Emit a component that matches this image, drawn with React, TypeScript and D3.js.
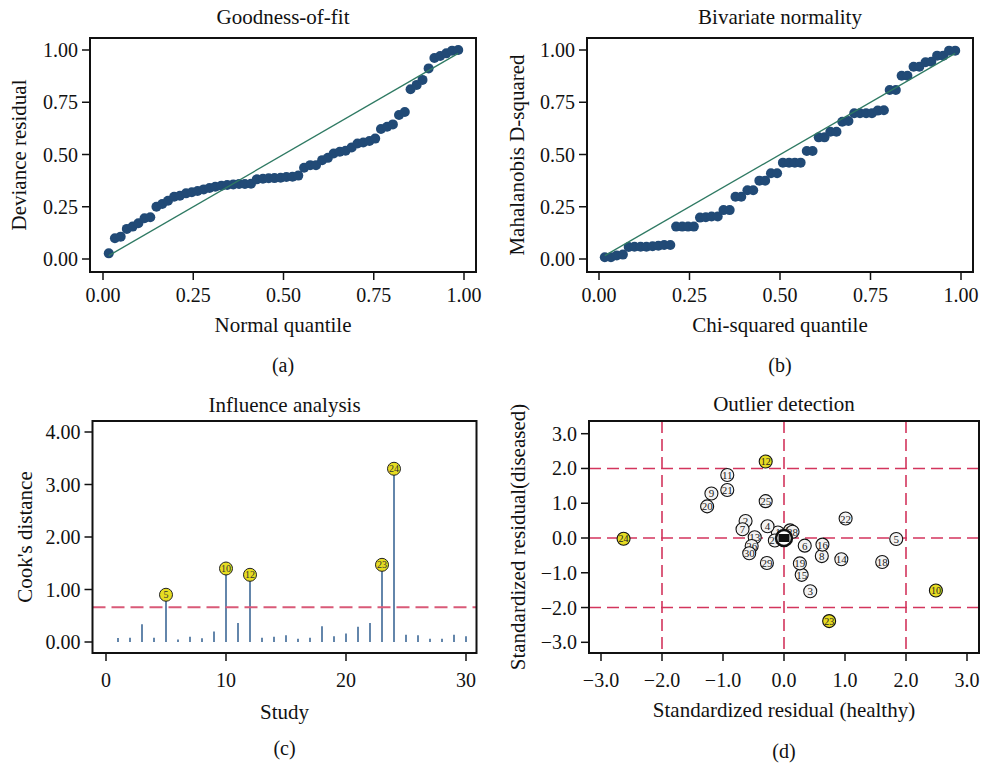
import * as d3 from 'd3'

// quantile positions shared by the two Q-Q panels
const quantiles = [
  0.016, 0.033, 0.049, 0.066, 0.082, 0.098, 0.115, 0.131, 0.148, 0.164,
  0.18, 0.197, 0.213, 0.23, 0.246, 0.262, 0.279, 0.295, 0.311, 0.328,
  0.344, 0.361, 0.377, 0.393, 0.41, 0.426, 0.443, 0.459, 0.475, 0.492,
  0.508, 0.525, 0.541, 0.557, 0.574, 0.59, 0.607, 0.623, 0.639, 0.656,
  0.672, 0.689, 0.705, 0.721, 0.738, 0.754, 0.77, 0.787, 0.803, 0.82,
  0.836, 0.852, 0.869, 0.885, 0.902, 0.918, 0.934, 0.951, 0.967, 0.984,
]

const devianceResidual = [
  0.027, 0.099, 0.107, 0.144, 0.155, 0.171, 0.195, 0.2, 0.25, 0.263,
  0.279, 0.298, 0.303, 0.314, 0.319, 0.325, 0.333, 0.34, 0.346, 0.351,
  0.354, 0.357, 0.359, 0.359, 0.36, 0.381, 0.384, 0.386, 0.387, 0.389,
  0.392, 0.394, 0.399, 0.437, 0.449, 0.449, 0.473, 0.484, 0.505, 0.513,
  0.518, 0.534, 0.553, 0.557, 0.565, 0.576, 0.622, 0.633, 0.644, 0.689,
  0.703, 0.812, 0.833, 0.857, 0.912, 0.962, 0.971, 0.984, 0.997, 1.0,
]

const mahalanobisD2 = [
  0.008, 0.008, 0.017, 0.021, 0.057, 0.059, 0.059, 0.059, 0.061, 0.063,
  0.067, 0.067, 0.155, 0.155, 0.155, 0.155, 0.198, 0.2, 0.203, 0.203,
  0.234, 0.234, 0.298, 0.298, 0.329, 0.329, 0.375, 0.375, 0.41, 0.41,
  0.461, 0.461, 0.461, 0.461, 0.517, 0.517, 0.582, 0.582, 0.609, 0.609,
  0.657, 0.66, 0.697, 0.697, 0.697, 0.697, 0.71, 0.712, 0.809, 0.809,
  0.877, 0.877, 0.92, 0.92, 0.941, 0.944, 0.973, 0.973, 0.997, 0.997,
]

const studies = [
  1, 2, 3, 4, 5, 6, 7, 8, 9, 10, 11, 12, 13, 14, 15,
  16, 17, 18, 19, 20, 21, 22, 23, 24, 25, 26, 27, 28, 29, 30,
]

const cooksDistance = [
  0.076, 0.08, 0.34, 0.08, 0.9, 0.05, 0.1, 0.07, 0.2, 1.4,
  0.36, 1.28, 0.08, 0.1, 0.13, 0.06, 0.08, 0.3, 0.11, 0.16,
  0.29, 0.36, 1.47, 3.3, 0.14, 0.13, 0.06, 0.06, 0.14, 0.11,
]
const cooksCutoff = 0.66
const influential = [5, 10, 12, 23, 24]

const healthyResid = [
  -0.1, -0.63, 0.43, -0.27, 1.84, 0.34, -0.68, 0.62, -1.19, 2.49,
  -0.93, -0.3, -0.48, 0.94, 0.29, 0.63, 0.1, 1.61, 0.26, -1.26,
  -0.93, 1.01, 0.74, -2.63, -0.3, -0.53, -0.15, 0.14, -0.28, -0.57,
]
const diseasedResid = [
  0.16, 0.49, -1.53, 0.34, -0.03, -0.22, 0.25, -0.52, 1.28, -1.51,
  1.81, 2.2, 0.02, -0.61, -1.06, -0.19, 0.22, -0.69, -0.73, 0.91,
  1.38, 0.56, -2.39, -0.02, 1.06, -0.23, -0.07, 0.18, -0.72, -0.44,
]
const outliers = [10, 12, 23, 24]
const cutLevels = [-2, 0, 2]

const unitTicks = [0, 0.25, 0.5, 0.75, 1]
const cookTicks = [0, 1, 2, 3, 4]
const studyTicks = [0, 10, 20, 30]
const residTicks = [-3, -2, -1, 0, 1, 2, 3]

const FONT = '"Liberation Serif", "DejaVu Serif", serif'
const POINT = '#214a76'
const LINE = '#2f7a63'
const STEM = '#3d6896'
const YELLOW = '#e6dc22'
const DASH_C = '#d95a78'
const DASH_D = '#d3355d'
const TICK_FS = 20
const LABEL_FS = 21

type Box = { x0: number; y0: number; x1: number; y1: number }

type PanelProps = {
  box: Box
  x: d3.ScaleLinear<number, number>
  y: d3.ScaleLinear<number, number>
  xTicks: number[]
  yTicks: number[]
  xFmt: (d: number) => string
  yFmt: (d: number) => string
  title: string
  xLabel: string
  yLabel: string
  sub: string
  yLabelX: number
  xTickY: number
  xLabelY: number
  subY: number
  titleY: number
  children?: React.ReactNode
}

const Panel = (p: PanelProps) => {
  const { box, x, y } = p
  const cx = (box.x0 + box.x1) / 2
  const cy = (box.y0 + box.y1) / 2
  return (
    <g fontFamily={FONT} fill="#111">
      <text x={cx} y={p.titleY} textAnchor="middle" dominantBaseline="central" fontSize={LABEL_FS}>
        {p.title}
      </text>
      {p.children}
      <rect x={box.x0} y={box.y0} width={box.x1 - box.x0} height={box.y1 - box.y0} fill="none" stroke="#111" strokeWidth={2} />
      {p.xTicks.map((t) => (
        <g key={'x' + t}>
          <line x1={x(t)} x2={x(t)} y1={box.y1} y2={box.y1 + 8} stroke="#111" strokeWidth={1.5} />
          <text x={x(t)} y={p.xTickY} textAnchor="middle" dominantBaseline="central" fontSize={TICK_FS}>
            {p.xFmt(t)}
          </text>
        </g>
      ))}
      {p.yTicks.map((t) => (
        <g key={'y' + t}>
          <line x1={box.x0 - 8} x2={box.x0} y1={y(t)} y2={y(t)} stroke="#111" strokeWidth={1.5} />
          <text x={box.x0 - 12} y={y(t)} textAnchor="end" dominantBaseline="central" fontSize={TICK_FS}>
            {p.yFmt(t)}
          </text>
        </g>
      ))}
      <text x={cx} y={p.xLabelY} textAnchor="middle" dominantBaseline="central" fontSize={LABEL_FS}>
        {p.xLabel}
      </text>
      <text
        transform={`translate(${p.yLabelX},${cy}) rotate(-90)`}
        textAnchor="middle"
        dominantBaseline="central"
        fontSize={LABEL_FS}
      >
        {p.yLabel}
      </text>
      <text x={cx} y={p.subY} textAnchor="middle" dominantBaseline="central" fontSize={TICK_FS}>
        {p.sub}
      </text>
    </g>
  )
}

const QQPanel = ({ box, values, xRange, title, xLabel, yLabel, sub, yLabelX }: {
  box: Box
  values: number[]
  xRange: [number, number]
  title: string
  xLabel: string
  yLabel: string
  sub: string
  yLabelX: number
}) => {
  const x = d3.scaleLinear().domain([0, 1]).range(xRange)
  const y = d3.scaleLinear().domain([0, 1]).range([259, 50])
  const qa = quantiles[0]
  const qb = quantiles[quantiles.length - 1]
  const f2 = d3.format('.2f')
  return (
    <Panel
      box={box} x={x} y={y} xTicks={unitTicks} yTicks={unitTicks} xFmt={f2} yFmt={f2}
      title={title} xLabel={xLabel} yLabel={yLabel} sub={sub} yLabelX={yLabelX}
      titleY={17} xTickY={295} xLabelY={325} subY={365}
    >
      {values.map((v, i) => (
        <circle key={i} cx={x(quantiles[i])} cy={y(v)} r={5} fill={POINT} />
      ))}
      <line x1={x(qa)} y1={y(qa)} x2={x(qb)} y2={y(qb)} stroke={LINE} strokeWidth={1.3} />
    </Panel>
  )
}

const CookPanel = () => {
  const box = { x0: 92.5, y0: 421, x1: 476.5, y1: 653 }
  const x = d3.scaleLinear().domain([0, 30]).range([106, 466])
  const y = d3.scaleLinear().domain([0, 4]).range([642, 432])
  return (
    <Panel
      box={box} x={x} y={y} xTicks={studyTicks} yTicks={cookTicks}
      xFmt={d3.format('d')} yFmt={d3.format('.2f')}
      title="Influence analysis" xLabel="Study" yLabel="Cook's distance" sub="(c)"
      yLabelX={25} titleY={405} xTickY={680} xLabelY={712} subY={748}
    >
      {studies.map((s, i) => (
        <line key={s} x1={x(s)} x2={x(s)} y1={y(0)} y2={y(cooksDistance[i])} stroke={STEM} strokeWidth={1.6} />
      ))}
      <line x1={box.x0} x2={box.x1} y1={y(cooksCutoff)} y2={y(cooksCutoff)} stroke={DASH_C} strokeWidth={2} strokeDasharray="13 6" />
      {studies.filter((s) => influential.includes(s)).map((s) => (
        <g key={'m' + s}>
          <circle cx={x(s)} cy={y(cooksDistance[s - 1])} r={6.5} fill={YELLOW} stroke="#222" strokeWidth={1} />
          <text x={x(s)} y={y(cooksDistance[s - 1])} textAnchor="middle" dominantBaseline="central" fontSize={10} fill="#333">
            {s}
          </text>
        </g>
      ))}
    </Panel>
  )
}

const OutlierPanel = () => {
  const box = { x0: 589, y0: 421, x1: 979, y1: 653 }
  const x = d3.scaleLinear().domain([-3, 3]).range([601, 967])
  const y = d3.scaleLinear().domain([-3, 3]).range([642.3, 433.7])
  const f1 = d3.format('.1f')
  return (
    <Panel
      box={box} x={x} y={y} xTicks={residTicks} yTicks={residTicks} xFmt={f1} yFmt={f1}
      title="Outlier detection" xLabel="Standardized residual (healthy)"
      yLabel="Standardized residual(diseased)" sub="(d)"
      yLabelX={518} titleY={404} xTickY={680} xLabelY={710} subY={751}
    >
      {cutLevels.map((c) => (
        <g key={'c' + c}>
          <line x1={box.x0} x2={box.x1} y1={y(c)} y2={y(c)} stroke={DASH_D} strokeWidth={1.6} strokeDasharray="12 6" />
          <line x1={x(c)} x2={x(c)} y1={box.y0} y2={box.y1} stroke={DASH_D} strokeWidth={1.6} strokeDasharray="12 6" />
        </g>
      ))}
      {studies.map((s, i) => (
        <g key={'p' + s}>
          <circle
            cx={x(healthyResid[i])} cy={y(diseasedResid[i])} r={6.5}
            fill={outliers.includes(s) ? YELLOW : '#f3f3f3'} stroke="#111" strokeWidth={1.1}
          />
          <text
            x={x(healthyResid[i])} y={y(diseasedResid[i])} textAnchor="middle" dominantBaseline="central"
            fontSize={outliers.includes(s) ? 10 : 11} fill="#222"
          >
            {s}
          </text>
        </g>
      ))}
      <circle cx={x(0)} cy={y(0)} r={8} fill="#fff" stroke="#111" strokeWidth={2.5} />
      <rect x={x(0) - 5.5} y={y(0) - 4} width={11} height={8} fill="#111" />
    </Panel>
  )
}

export default function App() {
  return (
    <svg width={981} height={764} style={{ position: 'absolute', left: 0, top: 0, background: '#fff' }}>
      <QQPanel
        box={{ x0: 90, y0: 38, x1: 476, y1: 272 }} values={devianceResidual} xRange={[103, 464]}
        title="Goodness-of-fit" xLabel="Normal quantile" yLabel="Deviance residual" sub="(a)" yLabelX={19}
      />
      <QQPanel
        box={{ x0: 587, y0: 38, x1: 973, y1: 272 }} values={mahalanobisD2} xRange={[599, 961]}
        title="Bivariate normality" xLabel="Chi-squared quantile" yLabel="Mahalanobis D-squared" sub="(b)" yLabelX={517}
      />
      <CookPanel />
      <OutlierPanel />
    </svg>
  )
}
